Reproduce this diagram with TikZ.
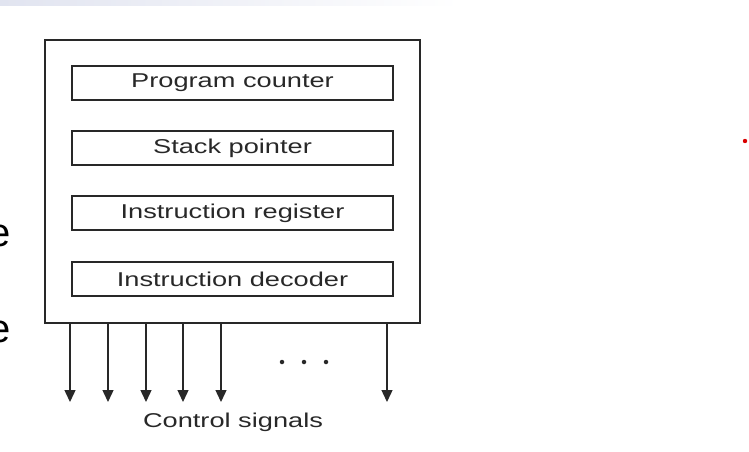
\documentclass[tikz,border=0pt]{standalone}
\usepackage{fontspec}
\setmainfont{Liberation Sans}
\newfontfamily\widefont[FakeStretch=1.36]{Liberation Sans}
\usetikzlibrary{arrows.meta}
\definecolor{ink}{RGB}{40,40,40}
\definecolor{slidetint}{RGB}{225,228,240}
\tikzset{
  regbox/.style={draw=ink, line width=1.1pt, minimum width=321pt, minimum height=34pt, inner sep=0pt,
    font=\widefont\fontsize{20}{23}\selectfont, text=ink},
  sigarrow/.style={draw=ink, line width=1.4pt, -{Triangle[width=11pt,length=12pt]}},
  lbl/.style={font=\widefont\fontsize{20}{23}\selectfont, text=ink, inner sep=0pt},
  dot/.style={circle, fill=ink, inner sep=0pt, minimum size=4.5pt},
  edgee/.style={font=\fontsize{40}{44}\selectfont, text=black, inner sep=0pt, anchor=east}
}
\begin{document}
\begin{tikzpicture}[x=1pt,y=-1pt]
\useasboundingbox (0,0) rectangle (749,452);
\begin{scope}
\clip (0,0) rectangle (749,452);
\shade[left color=slidetint, right color=white] (0,0) rectangle (460,6);
\node[edgee] (e1) at (11,236) {e};
\node[edgee] (e2) at (11,332) {e};
\end{scope}
\fill[red!85!black] (745,141) circle (2.2);
% outer box
\node[draw=ink, line width=1.7pt, minimum width=375pt, minimum height=283pt, inner sep=0pt] (cpu) at (232.5,181.5) {};
% registers
\node[regbox] (pc) at (232.5,83) {Program counter};
\node[regbox] (sp) at (232.5,148) {Stack pointer};
\node[regbox] (ir) at (232.5,213) {Instruction register};
\node[regbox] (id) at (232.5,279) {Instruction decoder};
% signal ends
\coordinate (s1) at (70,402);
\coordinate (s2) at (108,402);
\coordinate (s3) at (146,402);
\coordinate (s4) at (183,402);
\coordinate (s5) at (221,402);
\coordinate (s6) at (387,402);
\foreach \i in {1,...,6} {
  \draw[sigarrow] (s\i |- cpu.south) -- (s\i);
}
\node[dot] (d1) at (282,362) {};
\node[dot] (d2) at (304,362) {};
\node[dot] (d3) at (326,362) {};
\node[lbl] (cs) at (233,422) {Control signals};
\end{tikzpicture}
\end{document}
